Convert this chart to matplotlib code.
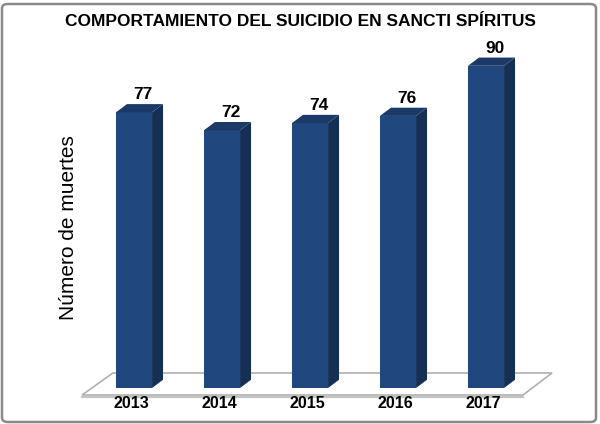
import matplotlib
matplotlib.use("Agg")
import matplotlib.pyplot as plt
from matplotlib.patches import Polygon, FancyBboxPatch

years = ["2013", "2014", "2015", "2016", "2017"]
deaths = [77, 72, 74, 76, 90]
title = "COMPORTAMIENTO DEL SUICIDIO EN SANCTI SPÍRITUS"
ylabel = "Número de muertes"

plt.rcParams['font.family'] = ['Liberation Sans', 'DejaVu Sans']

fig = plt.figure(figsize=(6.0, 4.24), dpi=100)
fig.patch.set_facecolor('white')

ax = fig.add_axes([90/600, 36/424, 440/600, 358/424])
ax.set_xlim(-0.5, 4.5)
ax.set_ylim(0, 100)
ax.axis('off')

width = 0.41
dx = 0.125
dy = 2.3

front_c = '#21477f'
side_c = '#152f55'
top_c = '#1b3a68'

floor = Polygon([(-0.59, -1.96), (4.42, -1.96), (4.75, 4.2), (-0.24, 4.2)],
                closed=True, facecolor='white', edgecolor='#b0b0b0', lw=1.2,
                clip_on=False, zorder=1)
ax.add_patch(floor)
ax.plot([-0.59, 4.42], [-2.4, -2.4], color='#c4c4c4', lw=1.6, clip_on=False, zorder=1)

x = list(range(len(years)))
ax.bar(x, deaths, width=width, color=front_c, zorder=3, clip_on=False)
for i, v in zip(x, deaths):
    l, r = i - width/2, i + width/2
    side = Polygon([(r, 0), (r + dx, dy), (r + dx, v + dy), (r, v)],
                   closed=True, facecolor=side_c, edgecolor='none', zorder=3, clip_on=False)
    top = Polygon([(l, v), (r, v), (r + dx, v + dy), (l + dx, v + dy)],
                  closed=True, facecolor=top_c, edgecolor='none', zorder=3, clip_on=False)
    ax.add_patch(side)
    ax.add_patch(top)
    ax.text(i + 0.1, v + dy + 0.5, str(v), ha='center', va='bottom',
            fontsize=12.5, fontweight='bold', color='black', zorder=4)
    ax.text(i - 0.03, -4.4, years[i], ha='center', va='center',
            fontsize=11.5, fontweight='bold', color='black')

fig.text(0.5, 1 - 21/424, title, ha='center', va='center', fontsize=12.5,
         fontweight='bold', color='black')
fig.text(68/600, 1 - 228/424, ylabel, ha='center', va='center', rotation=90,
         fontsize=15, color='black')

border = FancyBboxPatch((2/600, 2/424), 594/600, 418/424,
                        boxstyle='round,pad=0,rounding_size=0.01',
                        transform=fig.transFigure, facecolor='none',
                        edgecolor='#8a8a8a', lw=1.8)
fig.patches.append(border)

fig.savefig('out.png', dpi=100)
